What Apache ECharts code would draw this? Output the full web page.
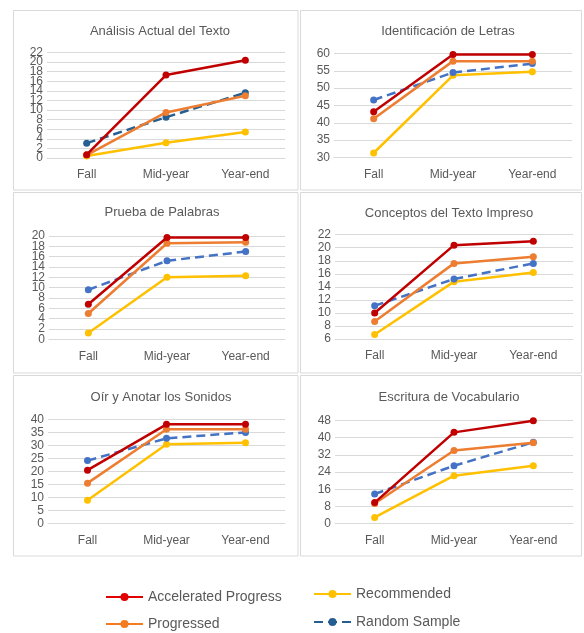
<!DOCTYPE html>
<html>
<head>
<meta charset="utf-8">
<script src="https://cdn.jsdelivr.net/npm/echarts@6/dist/echarts.min.js"></script>
<style>
html,body{margin:0;padding:0;background:#fff;}
#chart{width:584px;height:633px;}
</style>
</head>
<body>
<div id="chart"></div>
<script>
// ---- data ----
const categories = ['Fall', 'Mid-year', 'Year-end'];
const seriesNames = ['Accelerated Progress', 'Progressed', 'Recommended', 'Random Sample'];
const panelTitles = ['Análisis Actual del Texto', 'Identificación de Letras', 'Prueba de Palabras',
  'Conceptos del Texto Impreso', 'Oír y Anotar los Sonidos', 'Escritura de Vocabulario'];
// one entry per panel, values for Fall / Mid-year / Year-end
const acceleratedProgress = [[0.7, 17.3, 20.4], [43.2, 59.7, 59.7], [6.8, 19.7, 19.7], [10.0, 20.4, 21.0], [20.5, 38.2, 38.2], [9.8, 42.4, 47.8]];
const progressed = [[0.6, 9.5, 13.0], [41.2, 57.8, 57.8], [5.0, 18.6, 18.8], [8.7, 17.6, 18.6], [15.5, 36.3, 36.3], [9.4, 34.0, 37.6]];
const recommended = [[0.4, 3.2, 5.4], [31.3, 53.7, 54.7], [1.2, 12.0, 12.3], [6.7, 14.8, 16.2], [8.9, 30.5, 31.1], [2.9, 22.3, 26.9]];
const randomSample = [[3.1, 8.5, 13.6], [46.6, 54.5, 57.1], [9.6, 15.2, 17.0], [11.1, 15.2, 17.6], [24.2, 32.8, 35.1], [13.8, 26.9, 37.8]];
// y-axis ticks per panel
const yMin = [0, 30, 0, 6, 0, 0];
const yMax = [22, 60, 20, 22, 40, 48];
const yStep = [2, 5, 2, 2, 5, 8];

// ---- layout / style ----
const TXT = '#595959';
const GRID_C = '#d9d9d9';
const FONT = '"Liberation Sans", Arial, sans-serif';
const colors = ['#C00000', '#ED7D31', '#FFC000', '#4472C4'];
const grids = [
  {left: 47, top: 52.5, width: 238, height: 105.5},
  {left: 334, top: 53.5, width: 238, height: 104},
  {left: 49, top: 236, width: 236, height: 103.3},
  {left: 335, top: 234.7, width: 238, height: 104.3},
  {left: 48, top: 419.7, width: 237, height: 103.6},
  {left: 335, top: 420.3, width: 238, height: 103.4}
];
const crowded = [true, false, true, false, false, false];
const titlePos = [[155, 20], [443, 20], [157, 201], [444, 202], [156, 386], [444, 386]];
const boxes = [
  [13.5, 10.5, 284.5, 179.5], [300.5, 10.5, 281, 179.5],
  [13.5, 192.5, 284.5, 180.5], [300.5, 192.5, 281, 180.5],
  [13.5, 375.5, 284.5, 180.5], [300.5, 375.5, 281, 180.5]
];
const seriesData = [acceleratedProgress, progressed, recommended, randomSample];

const labelBase = {color: TXT, fontSize: 12, margin: 4, fontFamily: FONT, hideOverlap: false};

const yAxes = [];
grids.forEach((g, i) => {
  const isCrowded = crowded[i];
  yAxes.push({
    type: 'value', gridIndex: i, position: 'left', min: yMin[i], max: yMax[i], interval: yStep[i],
    axisLine: {show: false}, axisTick: {show: false},
    splitLine: {show: true, lineStyle: {color: GRID_C, width: 1}},
    axisLabel: Object.assign({}, labelBase, {
      showMinLabel: true, showMaxLabel: true,
      formatter: isCrowded ? (v => (v === yMin[i] || v === yMax[i]) ? String(v) : '') : '{value}'
    })
  });
});
// extra label-only axes for crowded panels so every tick label is drawn
grids.forEach((g, i) => {
  if (!crowded[i]) return;
  yAxes.push({
    type: 'value', gridIndex: i, position: 'left', offset: 0, min: yMin[i], max: yMax[i], interval: yStep[i],
    axisLine: {show: false}, axisTick: {show: false}, splitLine: {show: false},
    axisLabel: Object.assign({}, labelBase, {showMinLabel: false, showMaxLabel: false})
  });
});

const option = {
  backgroundColor: '#fff',
  animation: false,
  textStyle: {fontFamily: FONT},
  title: panelTitles.map((t, i) => ({
    text: t, left: titlePos[i][0], top: titlePos[i][1], textAlign: 'center',
    textStyle: {color: TXT, fontSize: 13, fontWeight: 'normal', fontFamily: FONT}
  })),
  grid: grids.map(g => Object.assign({containLabel: false}, g)),
  xAxis: grids.map((g, i) => ({
    type: 'category', gridIndex: i, data: categories, boundaryGap: true,
    axisLine: {show: true, lineStyle: {color: GRID_C, width: 1}},
    axisTick: {show: false},
    axisLabel: {color: TXT, fontSize: 12, margin: 11, fontFamily: FONT}
  })),
  yAxis: yAxes,
  legend: [
    {
      data: [
        {name: seriesNames[0], itemStyle: {color: '#E00000'}, lineStyle: {color: '#E00000'}},
        {name: seriesNames[1], itemStyle: {color: '#F47B20'}, lineStyle: {color: '#F47B20'}}
      ],
      orient: 'vertical', left: 105, top: 589, height: 44, padding: 0,
      itemGap: 11, itemWidth: 37, itemHeight: 10,
      textStyle: {color: TXT, fontSize: 14, lineHeight: 16, fontFamily: FONT}, selectedMode: false
    },
    {
      data: [seriesNames[2], seriesNames[3]],
      orient: 'vertical', left: 313, top: 586, height: 46, padding: 0,
      itemGap: 12, itemWidth: 37, itemHeight: 10,
      textStyle: {color: TXT, fontSize: 14, lineHeight: 16, fontFamily: FONT}, selectedMode: false
    }
  ],
  graphic: boxes.map(b => ({
    type: 'rect', shape: {x: b[0], y: b[1], width: b[2], height: b[3]},
    style: {fill: 'none', stroke: GRID_C, lineWidth: 1}, silent: true, z: -1
  })),
  series: []
};

for (let p = 0; p < 6; p++) {
  for (let s = 0; s < 4; s++) {
    const c = (s === 3 && p === 0) ? '#255E91' : colors[s];
    option.series.push({
      name: seriesNames[s], type: 'line', xAxisIndex: p, yAxisIndex: p,
      data: seriesData[s][p],
      symbol: 'circle', symbolSize: 7, showSymbol: true,
      itemStyle: {color: c},
      lineStyle: {color: c, width: 2.5, type: s === 3 ? [9, 5] : 'solid'},
      z: s === 3 ? 3 : (s === 0 ? 5 : 4 - s + 1)
    });
  }
}

const chart = echarts.init(document.getElementById('chart'), null, {renderer: 'canvas'});
chart.setOption(option);
</script>
</body>
</html>
